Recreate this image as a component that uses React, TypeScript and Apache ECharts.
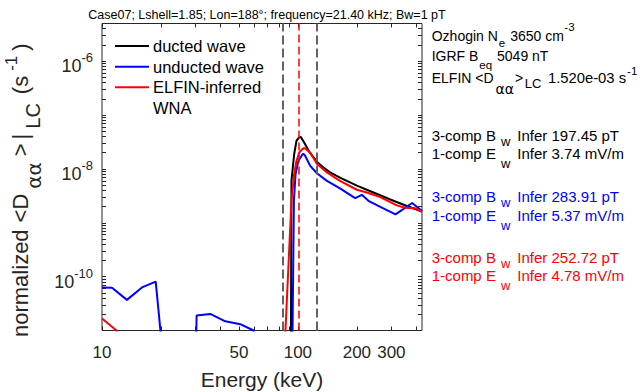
import React, { useEffect, useRef } from 'react';
import * as echarts from 'echarts';

// ---------- data ----------
const ductedE = [91.8, 92.7, 95.7, 98.3, 101.1, 103.5, 107.6, 115.1, 125, 135, 146, 164, 200, 243, 296, 360, 430];
const ductedD = [1e-13, 6e-9, 1.87e-8, 3.3e-8, 3.8e-8, 3.9e-8, 3.08e-8, 2.0e-8, 1.36e-8, 1.06e-8, 8.6e-9, 6.9e-9, 4.9e-9, 3.65e-9, 2.7e-9, 2.05e-9, 1.62e-9];

const unductedE = [10, 11.25, 13.4, 16.0, 18.8, 19.9, 30.0, 30.4, 35.7, 42.6, 50.8, 59.4, 61, 93.3, 95.4, 97.3, 100.5, 104.3, 106.5, 109, 115.6, 125, 140.6, 164, 196, 212, 229, 273, 315, 383, 430];
const unductedD = [6.3e-11, 6.2e-11, 3.7e-11, 6.3e-11, 8.1e-11, 9.5e-12, 1e-12, 1.9e-11, 2.03e-11, 1.48e-11, 1.31e-11, 1.0e-11, 1e-13, 1e-12, 2.55e-9, 8e-9, 1.4e-8, 1.74e-8, 1.93e-8, 1.74e-8, 1.14e-8, 8.3e-9, 6.0e-9, 4.34e-9, 2.86e-9, 3.3e-9, 2.55e-9, 1.85e-9, 1.43e-9, 2.33e-9, 1.65e-9];

const elfinE = [10, 11.9, 13.4, 85, 92.7, 95.7, 98.3, 101.6, 105, 108, 115.6, 125, 140.6, 164, 200, 225, 263, 320, 352, 397, 430];
const elfinD = [1.67e-11, 9.9e-12, 1e-13, 2.8e-12, 2.55e-9, 8e-9, 1.4e-8, 2.0e-8, 2.3e-8, 2.45e-8, 2.0e-8, 1.25e-8, 8.6e-9, 6.0e-9, 4.1e-9, 3.65e-9, 3.0e-9, 2.1e-9, 1.9e-9, 1.85e-9, 1.6e-9];

const xTickLabels = [10, 50, 100, 200, 300];
const xTicks = [10, 20, 30, 40, 50, 60, 70, 80, 90, 100, 200, 300, 400];
const yTickLabels = [1e-10, 1e-8, 1e-6];
const grayDashed = [83.3, 125.5];
const redDashed = [101];

const titleText = 'Case07; Lshell=1.85; Lon=188°; frequency=21.40 kHz; Bw=1 pT';
const legendNames = ['ducted wave', 'unducted wave', 'ELFIN-inferred', 'WNA'];
const blackAnn = ['197.45 pT', '3.74 mV/m'];
const blueAnn = ['283.91 pT', '5.37 mV/m'];
const redAnn = ['252.72 pT', '4.78 mV/m'];

const yTicks: number[] = [];
for (let e = -11; e <= -6; e++) {
  for (let k = 1; k <= 9; k++) {
    const v = k * Math.pow(10, e);
    if (v <= 5e-6) yTicks.push(v);
  }
}

const FONT = '"Liberation Sans", Arial, Helvetica, sans-serif';
const GREEK = '"DejaVu Sans", sans-serif';
const AX = '#262626';

function zip(a: number[], b: number[]) {
  return a.map((v, i) => [v, b[i]]);
}

let measureCtx: CanvasRenderingContext2D | null = null;
function textW(text: string, size: number, family: string) {
  if (!measureCtx) measureCtx = document.createElement('canvas').getContext('2d');
  if (!measureCtx) return text.length * size * 0.55;
  measureCtx.font = `${size}px ${family}`;
  return measureCtx.measureText(text).width;
}

type Frag = { t: string; size: number; dy?: number; gap?: number; at?: number; family?: string };

function layoutFrags(frags: Frag[], color: string, x0: number, y0: number) {
  let x = x0;
  const els: any[] = [];
  for (const f of frags) {
    if (f.at !== undefined) x = x0 + f.at;
    x += f.gap || 0;
    const fam = f.family || FONT;
    els.push({
      type: 'text', x, y: y0 + (f.dy || 0), silent: true,
      style: {
        text: f.t, fill: color, fontSize: f.size, fontFamily: fam,
        textAlign: 'left', align: 'left', textVerticalAlign: 'middle', verticalAlign: 'middle',
      },
    });
    x += textW(f.t, f.size, fam);
  }
  return els;
}

function compFrags(letter: string, prefix: string, dyW: number, val: string): Frag[] {
  return [
    { t: `${prefix} ${letter}`, size: 15 },
    { t: 'w', size: 13, dy: dyW, gap: 5 },
    { t: `Infer ${val}`, size: 15, gap: 7 },
  ];
}

export default function App() {
  const ref = useRef<HTMLDivElement>(null);
  useEffect(() => {
    if (!ref.current) return;
    const chart = echarts.init(ref.current, undefined, { renderer: 'svg' });
    const graphics: any[] = [];

    // title
    graphics.push({
      type: 'text', x: 267, y: 15, silent: true,
      style: { text: titleText, fill: '#000', fontFamily: FONT, fontSize: 12.5, textAlign: 'center', align: 'center', textVerticalAlign: 'middle', verticalAlign: 'middle' },
    });

    // y-axis name (rotated group; local x runs upward from the bottom of the label)
    const yNameFrags: Frag[] = [
      { t: 'normalized', size: 22 },
      { t: '<D', size: 22, gap: 7 },
      { t: 'αα', size: 20, dy: 13, gap: 5, family: GREEK },
      { t: '>', size: 22, gap: 6 },
      { t: '|', size: 22, gap: 4 },
      { t: 'LC', size: 20, dy: 12.5, gap: 5 },
      { t: '(s', size: 22, gap: 9 },
      { t: '-1', size: 17, dy: -9.5, gap: 5 },
      { t: ')', size: 22, gap: 5 },
    ];
    graphics.push({
      type: 'group', x: 20.5, y: 337, rotation: Math.PI / 2, silent: true,
      children: layoutFrags(yNameFrags, AX, 0, 0),
    });

    // legend
    const legColors = ['#000000', '#0000ff', '#ff0000'];
    const legY = [46, 66.7, 87.3, 108];
    legColors.forEach((c, i) => {
      graphics.push({ type: 'line', silent: true, shape: { x1: 115, y1: legY[i], x2: 149, y2: legY[i] }, style: { stroke: c, lineWidth: 2 } });
    });
    legendNames.forEach((name, i) => {
      graphics.push({
        type: 'text', x: 153, y: legY[i], silent: true,
        style: { text: name, fill: '#000', fontFamily: FONT, fontSize: 16.5, textAlign: 'left', align: 'left', textVerticalAlign: 'middle', verticalAlign: 'middle' },
      });
    });

    // right annotations
    const AX0 = 431.7;
    graphics.push(...layoutFrags([
      { t: 'Ozhogin N', size: 14 },
      { t: 'e', size: 11.5, dy: 7, gap: 1 },
      { t: ' 3650 cm', size: 14, gap: 1 },
      { t: '-3', size: 11.5, dy: -8.5, gap: 0.5 },
    ], '#000', AX0, 35.5));
    graphics.push(...layoutFrags([
      { t: 'IGRF B', size: 14 },
      { t: 'eq', size: 11.5, dy: 8.5, gap: 1 },
      { t: ' 5049 nT', size: 14, gap: 1 },
    ], '#000', AX0, 56));
    graphics.push(...layoutFrags([
      { t: 'ELFIN <D', size: 14 },
      { t: 'αα', size: 14, dy: 10.5, gap: 2, family: GREEK },
      { t: '>', size: 14, gap: 1 },
      { t: 'LC', size: 13, dy: 5, gap: 1.5 },
      { t: ' 1.520e-03 s', size: 14.8, gap: 2.5 },
      { t: '-1', size: 11.5, dy: -7.5, gap: 1 },
    ], '#000', AX0, 78));

    const compSets: [number, number, string, string[]][] = [
      [135, 153.3, '#000000', blackAnn],
      [196.7, 215.7, '#0000ff', blueAnn],
      [257.3, 275.7, '#ff0000', redAnn],
    ];
    compSets.forEach(([y1, y2, c, ann]) => {
      graphics.push(...layoutFrags(compFrags('B', '3-comp', 6, ann[0]), c, AX0, y1));
      graphics.push(...layoutFrags(compFrags('E', '1-comp', 10, ann[1]), c, AX0, y2));
    });

    const tickCommon = { show: true, inside: true, length: 4, lineStyle: { color: AX, width: 1 } };

    const option: any = {
      animation: false,
      backgroundColor: '#ffffff',
      grid: {
        left: 102, right: 222, top: 23.5, bottom: 61.5,
        show: true, borderColor: AX, borderWidth: 1, backgroundColor: 'transparent',
        containLabel: false, outerBoundsMode: 'none',
      },
      xAxis: [
        {
          type: 'log', logBase: 10, min: 10, max: 430, position: 'bottom',
          axisLine: { show: false }, splitLine: { show: false },
          axisTick: { ...tickCommon, customValues: xTicks },
          axisLabel: {
            customValues: xTickLabels, formatter: (v: number) => String(Math.round(v)),
            fontSize: 17, color: AX, fontFamily: FONT, margin: 12, lineHeight: 20,
          },
          name: 'Energy (keV)', nameLocation: 'middle', nameGap: 30,
          nameTextStyle: { fontSize: 21, color: AX, fontFamily: FONT, lineHeight: 24 },
        },
        {
          type: 'log', logBase: 10, min: 10, max: 430, position: 'top',
          axisLine: { show: false }, splitLine: { show: false },
          axisTick: { ...tickCommon, customValues: xTicks },
          axisLabel: { show: false },
        },
      ],
      yAxis: [
        {
          type: 'log', logBase: 10, min: 1e-11, max: 5e-6, position: 'left',
          axisLine: { show: false }, splitLine: { show: false },
          axisTick: { ...tickCommon, customValues: yTicks },
          axisLabel: {
            customValues: yTickLabels,
            formatter: (v: number) => `{b|10}{s|${Math.round(Math.log10(v))}}`,
            margin: 9,
            rich: {
              b: { fontSize: 18, lineHeight: 18, fontFamily: FONT, color: AX, padding: [10, 0, 0, 0] },
              s: { fontSize: 13, lineHeight: 13, fontFamily: FONT, color: AX, padding: [4.1, 0, 10.9, 0] },
            },
          },
        },
        {
          type: 'log', logBase: 10, min: 1e-11, max: 5e-6, position: 'right',
          axisLine: { show: false }, splitLine: { show: false },
          axisTick: { ...tickCommon, customValues: yTicks },
          axisLabel: { show: false },
        },
      ],
      series: [
        {
          name: 'ducted wave', type: 'line', data: zip(ductedE, ductedD), symbol: 'none', showSymbol: false,
          lineStyle: { color: '#000000', width: 2 }, itemStyle: { color: '#000000' }, clip: true, z: 2,
        },
        {
          name: 'unducted wave', type: 'line', data: zip(unductedE, unductedD), symbol: 'none', showSymbol: false,
          lineStyle: { color: '#0000ff', width: 2 }, itemStyle: { color: '#0000ff' }, clip: true, z: 3,
        },
        {
          name: 'ELFIN-inferred WNA', type: 'line', data: zip(elfinE, elfinD), symbol: 'none', showSymbol: false,
          lineStyle: { color: '#ff0000', width: 2 }, itemStyle: { color: '#ff0000' }, clip: true, z: 4,
          markLine: {
            silent: true, symbol: ['none', 'none'], label: { show: false }, animation: false,
            data: [
              ...grayDashed.map((x) => ({ xAxis: x, lineStyle: { color: '#636363', type: [9, 4], width: 2 } })),
              ...redDashed.map((x) => ({ xAxis: x, lineStyle: { color: '#ff0000', type: [8, 4], width: 1.5 } })),
            ],
          },
        },
      ],
      graphic: graphics,
    };
    chart.setOption(option);
    return () => chart.dispose();
  }, []);
  return <div ref={ref} style={{ position: 'fixed', left: 0, top: 0, width: 644, height: 392, background: '#fff' }} />;
}
